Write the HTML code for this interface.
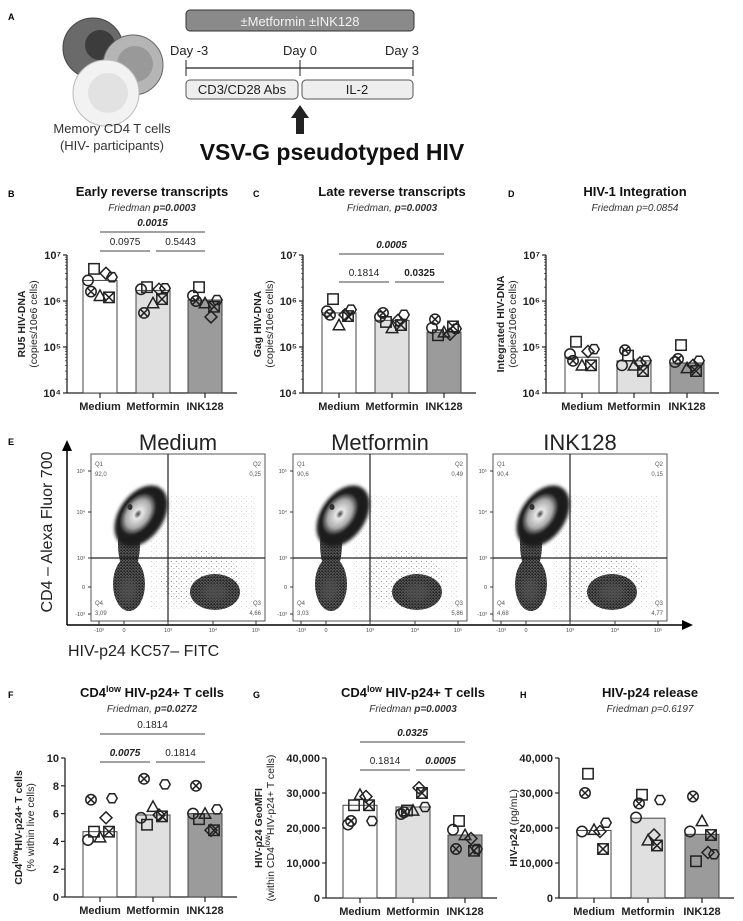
<!DOCTYPE html>
<html><head><meta charset="utf-8">
<style>
html,body{margin:0;padding:0;background:#fff}
svg{display:block;font-family:"Liberation Sans",Arial,sans-serif}
</style></head>
<body>
<svg id="fig" width="743" height="921" viewBox="0 0 743 921" xmlns="http://www.w3.org/2000/svg">
<defs>
<filter id="blur3"><feGaussianBlur stdDeviation="3"/></filter>
<filter id="blur1"><feGaussianBlur stdDeviation="1.5"/></filter>
<radialGradient id="blobG" cx="50%" cy="50%" r="50%">
<stop offset="0" stop-color="#444"/><stop offset="0.2" stop-color="#e8e8e8"/><stop offset="0.6" stop-color="#aaa"/><stop offset="0.9" stop-color="#222"/><stop offset="1" stop-color="#222" stop-opacity="0"/>
</radialGradient>
<pattern id="speck" width="5" height="5" patternUnits="userSpaceOnUse">
<rect x="1" y="1" width="0.9" height="0.9" fill="#333"/><rect x="3.5" y="3.2" width="0.9" height="0.9" fill="#555"/>
</pattern>
<pattern id="speckD" width="3" height="3" patternUnits="userSpaceOnUse">
<rect x="0" y="0" width="3" height="3" fill="#555"/><rect x="0.5" y="0.5" width="1.3" height="1.3" fill="#000"/><rect x="2" y="1.8" width="0.9" height="0.9" fill="#111"/>
</pattern>
</defs>

<!-- Panel A -->
<g>
<text x="8" y="20" font-size="9" font-weight="bold">A</text>
<circle cx="93" cy="48" r="30" fill="#6a6a6a" stroke="#444"/>
<circle cx="100" cy="45" r="15" fill="#3c3c3c"/>
<circle cx="133" cy="65" r="30" fill="#b5b5b5" stroke="#666"/>
<circle cx="135" cy="64" r="18" fill="#999"/>
<circle cx="106" cy="93" r="33" fill="#f2f2f2" stroke="#bbb"/>
<circle cx="108" cy="93" r="20" fill="#e2e2e2"/>
<text x="112" y="133" font-size="13" text-anchor="middle" fill="#333">Memory CD4 T cells</text>
<text x="112" y="150" font-size="13" text-anchor="middle" fill="#333">(HIV- participants)</text>
<rect x="186" y="10" width="228" height="21" rx="4" fill="#8a8a8a" stroke="#333"/>
<text x="300" y="26" font-size="13" text-anchor="middle" fill="#f2f2f2">±Metformin ±INK128</text>
<text x="170" y="55" font-size="13" fill="#222">Day -3</text>
<text x="300" y="55" font-size="13" text-anchor="middle" fill="#222">Day 0</text>
<text x="385" y="55" font-size="13" fill="#222">Day 3</text>
<line x1="186" y1="68" x2="413" y2="68" stroke="#222" stroke-width="1.2"/>
<line x1="186" y1="60" x2="186" y2="76" stroke="#222"/><line x1="300" y1="60" x2="300" y2="76" stroke="#222"/><line x1="413" y1="60" x2="413" y2="76" stroke="#222"/>
<rect x="186" y="80" width="112" height="19" rx="4" fill="#eee" stroke="#555"/>
<text x="242" y="94" font-size="13" text-anchor="middle" fill="#222">CD3/CD28 Abs</text>
<rect x="302" y="80" width="111" height="19" rx="4" fill="#eee" stroke="#555"/>
<text x="357" y="94" font-size="13" text-anchor="middle" fill="#222">IL-2</text>
<polygon points="300,105 309,118 304,118 304,134 296,134 296,118 291,118" fill="#222"/>
<text x="332" y="160" font-size="23" font-weight="bold" text-anchor="middle" fill="#111">VSV-G pseudotyped HIV</text>
</g>

<!-- Panel E flow plots -->
<g id="flow">
<text x="8" y="445" font-size="9" font-weight="bold">E</text>
<line x1="67" y1="625" x2="67" y2="448" stroke="#000" stroke-width="1.5"/>
<polygon points="67,440 62,451 72,451" fill="#000"/>
<line x1="67" y1="625" x2="685" y2="625" stroke="#000" stroke-width="1.5"/>
<polygon points="693,625 682,620 682,630" fill="#000"/>
<text transform="translate(52,532) rotate(-90)" font-size="16" text-anchor="middle" fill="#222">CD4 – Alexa Fluor 700</text>
<text x="68" y="656" font-size="16" fill="#222">HIV-p24 KC57– FITC</text>
</g>

<g id="charts"></g>
</svg>

<script>
const NS="http://www.w3.org/2000/svg";
const svg=document.getElementById('charts');
function mk(tag,attrs,parent,txt){const e=document.createElementNS(NS,tag);for(const k in attrs)e.setAttribute(k,attrs[k]);if(txt!==undefined)e.textContent=txt;(parent||svg).appendChild(e);return e;}

// ---------- data ----------
const categories=["Medium","Metformin","INK128"];
const markers=["circle","square","triangle","diamond","hexagon","otimes","boxtimes"];
const bBars=[2.8e6,1.7e6,1.05e6];
const bPts=[[2.8e6,5e6,1.3e6,4e6,3.3e6,1.6e6,1.2e6],[1.8e6,2e6,9e5,1.8e6,1.9e6,5.5e5,1.1e6],[1.3e6,2e6,9e5,4.5e5,1.05e6,1.0e6,7.5e5]];
const cBars=[5.5e5,3.8e5,2.1e5];
const cPts=[[6e5,1.1e6,3e5,5e5,6.5e5,5e5,4.7e5],[4.5e5,3.5e5,2.6e5,3.8e5,5e5,5.5e5,3e5],[2.6e5,1.8e5,2.1e5,1.9e5,2.5e5,4e5,2.8e5]];
const dBars=[6e4,5e4,4.5e4];
const dPts=[[7e4,1.3e5,4e4,8e4,9e4,5e4,4e4],[4e4,6.5e4,4e4,4.5e4,5e4,8.5e4,3e4],[4.7e4,1.1e5,3.5e4,4e4,5e4,5.5e4,3e4]];
const fBars=[4.7,5.9,6.0];
const fPts=[[4.1,4.7,4.3,5.7,7.1,7.0,4.7],[5.7,5.2,6.5,5.9,8.1,8.5,5.8],[6.0,5.6,6.0,4.8,6.3,8.0,4.8]];
const gBars=[26500,26000,18000];
const gPts=[[21000,26500,29500,29000,22000,22000,26500],[24000,25000,25000,31500,26000,24500,30000],[19500,22000,18000,17000,14000,14000,13500]];
const hBars=[19300,22800,18200];
const hPts=[[19000,35500,19500,19000,21500,30000,14000],[23000,29500,16500,18000,28000,27000,15000],[19000,10500,22000,13000,12500,29000,18000]];
const logTicks=["10⁷","10⁶","10⁵","10⁴"];
const linTicksF=["0","2","4","6","8","10"];
const linTicksG=["0","10,000","20,000","30,000","40,000"];
const flowQuads=[["92,0","0,25","3,09","4,66"],["90,6","0,49","3,03","5,86"],["90,4","0,15","4,68","4,77"]];

const fills=["#ffffff","#e0e0e0","#9b9b9b"];
const jit=[-12,-6,0,6,12,-9,9];

function marker(g,type,x,y,s){
  const st={fill:"none",stroke:"#222","stroke-width":1.5};
  let e;
  if(type==="circle"){e=mk('circle',Object.assign({cx:x,cy:y,r:s},st),g);}
  else if(type==="square"||type==="boxtimes"){e=mk('rect',Object.assign({x:x-s,y:y-s,width:2*s,height:2*s},st),g);
    if(type==="boxtimes"){mk('path',Object.assign({d:`M${x-s} ${y-s}L${x+s} ${y+s}M${x+s} ${y-s}L${x-s} ${y+s}`},st),g);}}
  else if(type==="triangle"){e=mk('polygon',Object.assign({points:`${x},${y-s*1.1} ${x+s*1.1},${y+s*0.9} ${x-s*1.1},${y+s*0.9}`},st),g);}
  else if(type==="diamond"){e=mk('polygon',Object.assign({points:`${x},${y-s*1.15} ${x+s*1.15},${y} ${x},${y+s*1.15} ${x-s*1.15},${y}`},st),g);}
  else if(type==="hexagon"){let p=[];for(let i=0;i<6;i++){const a=Math.PI/3*i;p.push((x+s*Math.cos(a)).toFixed(1)+","+(y+s*Math.sin(a)).toFixed(1));}e=mk('polygon',Object.assign({points:p.join(" ")},st),g);}
  else if(type==="otimes"){e=mk('circle',Object.assign({cx:x,cy:y,r:s},st),g);const d=s*0.7;mk('path',Object.assign({d:`M${x-d} ${y-d}L${x+d} ${y+d}M${x+d} ${y-d}L${x-d} ${y+d}`},st),g);}
  return e;
}

function chart(cfg){
  const g=mk('g',{});
  
  
  const yScale=cfg.log?(v=>cfg.yTop+(cfg.lmax-Math.log10(v))/(cfg.lmax-cfg.lmin)*(cfg.yBot-cfg.yTop))
                     :(v=>cfg.yBot-(v/cfg.max)*(cfg.yBot-cfg.yTop));
  const lbl=mk('text',{x:cfg.letterX,y:cfg.titleY+1,"font-size":9,"font-weight":"bold"},g,cfg.letter);
  
  
  const t=mk('text',{x:cfg.cx,y:cfg.titleY,"font-size":13,"font-weight":"bold","text-anchor":"middle",fill:"#111"},g);
  
  
  t.innerHTML=cfg.titleHTML;
  const s=mk('text',{x:cfg.cx,y:cfg.titleY+15,"font-size":10,"font-style":"italic","text-anchor":"middle",fill:"#333"},g);
  
  
  s.innerHTML=cfg.sub;
  const ax=mk('line',{x1:cfg.axX,y1:cfg.yTop,x2:cfg.axX,y2:cfg.yBot,stroke:"#222","stroke-width":1.3},g);
  
  
  const ticks=cfg.ticks;
  ticks.forEach((tk,i)=>{
    const y=cfg.yTop+i/(ticks.length-1)*(cfg.yBot-cfg.yTop);
    const yy=cfg.log?y:(cfg.yBot-i/(ticks.length-1)*(cfg.yBot-cfg.yTop));
    mk('line',{x1:cfg.axX-4,y1:yy,x2:cfg.axX,y2:yy,stroke:"#222","stroke-width":1.2},g);
    const tt=mk('text',{x:cfg.axX-6,y:yy+4,"font-size":11,"font-weight":"bold","text-anchor":"end",fill:"#222"},g,tk);
    
    
    if(cfg.log&&i<ticks.length-1){for(let m=2;m<10;m++){const v=Math.pow(10,cfg.lmax-i-1)*m;const ym=yScale(v);mk('line',{x1:cfg.axX-2,y1:ym,x2:cfg.axX,y2:ym,stroke:"#222","stroke-width":0.7},g);}}
  });
  const xa=mk('line',{x1:cfg.axX,y1:cfg.yBot,x2:cfg.xs[2]+32,y2:cfg.yBot,stroke:"#222","stroke-width":1.3},g);
  
  
  const base=cfg.log?cfg.yBot:yScale(0);
  cfg.bars.forEach((v,i)=>{
    const x=cfg.xs[i];const y=yScale(v);
    const b=mk('rect',{x:x-17,y:y,width:34,height:base-y,fill:fills[i],stroke:"#444","stroke-width":1},g);
    
    
    mk('line',{x1:x,y1:cfg.yBot,x2:x,y2:cfg.yBot+5,stroke:"#222","stroke-width":1.2},g);
    const xl=mk('text',{x:x,y:cfg.yBot+17,"font-size":11,"font-weight":"bold","text-anchor":"middle",fill:"#222"},g,categories[i]);
    
    
    cfg.pts[i].forEach((pv,j)=>{
      const m=marker(g,markers[j],x+jit[j],yScale(pv),5.2);
      
      
    });
  });
  const ytx=cfg.ytX!==undefined?cfg.ytX:cfg.axX-42;
  const yt=mk('text',{transform:`translate(${ytx},${(cfg.yTop+cfg.yBot)/2}) rotate(-90)`,"text-anchor":"middle","font-size":10.5,fill:"#222"},g);
  
  
  yt.innerHTML=cfg.ytHTML||`<tspan font-weight="bold">${cfg.yt1}</tspan><tspan x="0" dy="12">${cfg.yt2}</tspan>`;
  cfg.comps.forEach(c=>{
    const xa1=c[1]-c[0]===2?cfg.xs[0]:cfg.xs[c[0]]+(c[0]===1?3:0);
    const xa2=c[1]-c[0]===2?cfg.xs[2]:cfg.xs[c[1]]-(c[1]===1?3:0);
    const l=mk('line',{x1:xa1,y1:c[2],x2:xa2,y2:c[2],stroke:"#444","stroke-width":1},g);
    
    
    const tx=mk('text',{x:(xa1+xa2)/2,y:c[2]-6,"font-size":10,"text-anchor":"middle",fill:"#222","font-weight":c[4]?"bold":"normal","font-style":c[5]?"italic":"normal"},g,c[3]);
    
    
  });
}

chart({name:"chart-b-early-rt",letter:"B",letterX:8,cx:152,titleY:196,titleHTML:"Early reverse transcripts",sub:'Friedman <tspan font-weight="bold">p=0.0003</tspan>',
  axX:67,yTop:255,yBot:393,log:true,lmax:7,lmin:4,ticks:logTicks,xs:[100,153,205],bars:bBars,pts:bPts,
  yt1:"RU5 HIV-DNA",yt2:"(copies/10e6 cells)",comps:[[0,2,232,"0.0015",1,1],[0,1,251,"0.0975",0,0],[1,2,251,"0.5443",0,0]]});
chart({name:"chart-c-late-rt",letter:"C",letterX:253,cx:392,titleY:196,titleHTML:"Late reverse transcripts",sub:'Friedman, <tspan font-weight="bold">p=0.0003</tspan>',
  axX:303,yTop:255,yBot:393,log:true,lmax:7,lmin:4,ticks:logTicks,xs:[339,392,444],bars:cBars,pts:cPts,
  yt1:"Gag HIV-DNA",yt2:"(copies/10e6 cells)",comps:[[0,2,254,"0.0005",1,1],[0,1,282,"0.1814",0,0],[1,2,282,"0.0325",1,0]]});
chart({name:"chart-d-integration",letter:"D",letterX:508,cx:635,titleY:196,titleHTML:"HIV-1 Integration",sub:'Friedman p=0.0854',
  axX:546,yTop:255,yBot:393,log:true,lmax:7,lmin:4,ticks:logTicks,xs:[582,634,687],bars:dBars,pts:dPts,
  yt1:"Integrated HIV-DNA",yt2:"(copies/10e6 cells)",comps:[]});
chart({name:"chart-f-cd4low-pct",letter:"F",letterX:8,cx:152,titleY:697,titleHTML:'CD4<tspan font-size="9" dy="-5">low</tspan><tspan dy="5"> HIV-p24+ T cells</tspan>',sub:'Friedman, <tspan font-weight="bold">p=0.0272</tspan>',
  axX:65,yTop:758,yBot:897,log:false,max:10,ticks:linTicksF,xs:[100,153,205],bars:fBars,pts:fPts,ytX:22,
  ytHTML:'<tspan font-weight="bold">CD4<tspan font-size="8" dy="-4">low</tspan><tspan dy="4">HIV-p24+ T cells</tspan></tspan><tspan x="0" dy="12">(% within live cells)</tspan>',comps:[[0,2,734,"0.1814",0,0],[0,1,762,"0.0075",1,1],[1,2,762,"0.1814",0,0]]});
chart({name:"chart-g-geomfi",letter:"G",letterX:253,cx:413,titleY:697,titleHTML:'CD4<tspan font-size="9" dy="-5">low</tspan><tspan dy="5"> HIV-p24+ T cells</tspan>',sub:'Friedman <tspan font-weight="bold">p=0.0003</tspan>',
  axX:326,yTop:758,yBot:898,log:false,max:40000,ticks:linTicksG,xs:[360,413,465],bars:gBars,pts:gPts,ytX:262,
  ytHTML:'<tspan font-weight="bold">HIV-p24 GeoMFI</tspan><tspan x="0" dy="12">(within CD4</tspan><tspan font-size="8" dy="-4">low</tspan><tspan dy="4">HIV-p24+ T cells)</tspan>',comps:[[0,2,742,"0.0325",1,1],[0,1,770,"0.1814",0,0],[1,2,770,"0.0005",1,1]]});
chart({name:"chart-h-p24-release",letter:"H",letterX:520,cx:650,titleY:697,titleHTML:"HIV-p24 release",sub:'Friedman p=0.6197',
  axX:559,yTop:758,yBot:898,log:false,max:40000,ticks:linTicksG,xs:[594,648,702],bars:hBars,pts:hPts,ytX:517,
  ytHTML:'<tspan font-weight="bold">HIV-p24</tspan> (pg/mL)',comps:[]});

// ---------- flow plots ----------
const flow=document.getElementById('flow');
const flowTitles=["Medium","Metformin","INK128"];
const flowX=[91,293,493];
flowTitles.forEach((nm,i)=>{
  const x0=flowX[i],y0=454,w=174,h=167,gx=x0+77,gy=y0+104;
  const g=mk('g',{},flow);
  
  
  const tt=mk('text',{x:x0+w/2,y:y0-4,"font-size":22,"text-anchor":"middle",fill:"#222"},g,nm);
  
  
  mk('rect',{x:x0,y:y0,width:w,height:h,fill:"#fff",stroke:"#555","stroke-width":1},g);
  mk('rect',{x:x0+60,y:y0+40,width:105,height:115,fill:"url(#speck)",opacity:0.25},g);
  mk('ellipse',{cx:x0+110,cy:y0+125,rx:40,ry:28,fill:"url(#speck)",opacity:0.5},g);
  const qx=i===2?-5:0;
  mk('ellipse',{cx:x0+38,cy:y0+130,rx:16,ry:27,fill:"url(#speckD)"},g);
  mk('ellipse',{cx:x0+37,cy:y0+136,rx:9,ry:12,fill:"#555",filter:"url(#blur3)",opacity:0.6},g);
  mk('ellipse',{cx:x0+124+qx,cy:y0+138,rx:25,ry:18,fill:"url(#speckD)"},g);
  mk('ellipse',{cx:x0+124+qx,cy:y0+138,rx:13,ry:9,fill:"#555",filter:"url(#blur3)",opacity:0.6},g);
  mk('ellipse',{cx:x0+38,cy:y0+90,rx:11,ry:30,fill:"url(#speckD)"},g);
  mk('ellipse',{cx:x0+50,cy:y0+62,rx:22,ry:34,fill:"#1a1a1a",transform:`rotate(35 ${x0+50} ${y0+62})`,filter:"url(#blur1)"},g);
  mk('ellipse',{cx:x0+47,cy:y0+60,rx:17,ry:26,fill:"url(#blobG)",transform:`rotate(35 ${x0+47} ${y0+60})`},g);
  mk('ellipse',{cx:x0+39,cy:y0+53,rx:2.5,ry:3,fill:"#333"},g);
  mk('line',{x1:gx,y1:y0,x2:gx,y2:y0+h,stroke:"#222","stroke-width":1.2},g);
  mk('line',{x1:x0,y1:gy,x2:x0+w,y2:gy,stroke:"#222","stroke-width":1.2},g);
  const q=flowQuads[i];
  mk('text',{x:x0+4,y:y0+12,"font-size":6,fill:"#555"},g,"Q1");
  mk('text',{x:x0+4,y:y0+22,"font-size":6,fill:"#555"},g,q[0]);
  mk('text',{x:x0+w-4,y:y0+12,"font-size":6,fill:"#555","text-anchor":"end"},g,"Q2");
  mk('text',{x:x0+w-4,y:y0+22,"font-size":6,fill:"#555","text-anchor":"end"},g,q[1]);
  mk('text',{x:x0+4,y:y0+151,"font-size":6,fill:"#555"},g,"Q4");
  mk('text',{x:x0+4,y:y0+161,"font-size":6,fill:"#555"},g,q[2]);
  mk('text',{x:x0+w-4,y:y0+151,"font-size":6,fill:"#555","text-anchor":"end"},g,"Q3");
  mk('text',{x:x0+w-4,y:y0+161,"font-size":6,fill:"#555","text-anchor":"end"},g,q[3]);
  [["10⁵",17],["10⁴",58],["10³",104],["0",133],["-10³",160]].forEach(t=>{
    mk('line',{x1:x0-3,y1:y0+t[1],x2:x0,y2:y0+t[1],stroke:"#333"},g);
    mk('text',{x:x0-6,y:y0+t[1]+2,"font-size":5.5,fill:"#444","text-anchor":"end"},g,t[0]);
  });
  [["-10³",8],["0",33],["10³",77],["10⁴",122],["10⁵",165]].forEach(t=>{
    mk('line',{x1:x0+t[1],y1:y0+h,x2:x0+t[1],y2:y0+h+4,stroke:"#333"},g);
    mk('text',{x:x0+t[1],y:y0+h+11,"font-size":5.5,fill:"#444","text-anchor":"middle"},g,t[0]);
  });
});
</script>
</body></html>
